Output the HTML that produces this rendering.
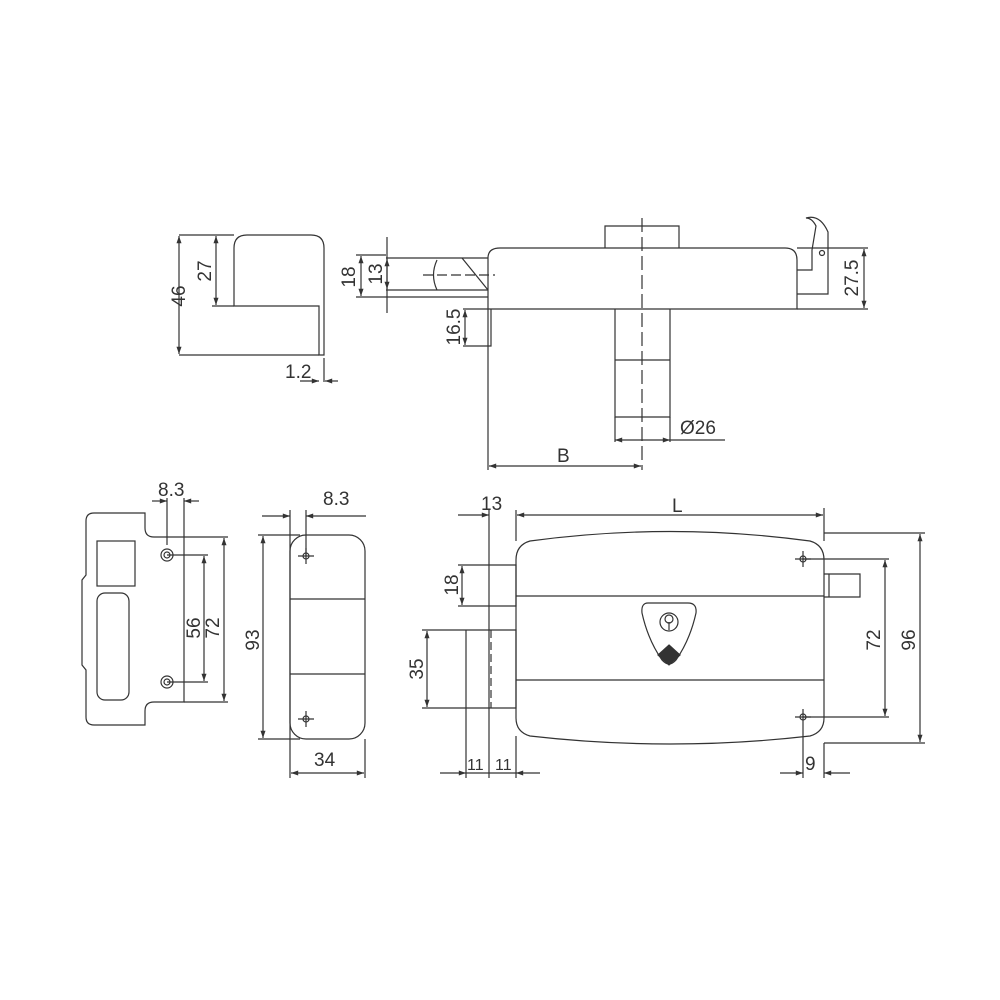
<!DOCTYPE html>
<html><head><style>
html,body{margin:0;padding:0;background:#fff}
svg{display:block}
text{font-family:"Liberation Sans",sans-serif;font-size:19px;fill:#333}
</style></head><body>
<svg width="1000" height="1000" viewBox="0 0 1000 1000" xmlns="http://www.w3.org/2000/svg">
<defs>
<marker id="a" viewBox="0 0 10 10" refX="10" refY="5" markerWidth="8" markerHeight="6" orient="auto-start-reverse"><path d="M0,1.5 L10,5 L0,8.5z" fill="#333"/></marker>
</defs>
<g fill="none" stroke="#333" stroke-width="1.2">
<path d="M234,306 V248 Q234,235 247,235 H311 Q324,235 324,248 V355 H319 V306 Z"/>
<path d="M179,235 H234 M179,355 H319 M212,306 H234"/>
<line x1="179" y1="236" x2="179" y2="354" marker-start="url(#a)" marker-end="url(#a)"/>
<line x1="216" y1="236" x2="216" y2="305" marker-start="url(#a)" marker-end="url(#a)"/>
<path d="M324,358 V382"/>
<line x1="300" y1="381" x2="319" y2="381" marker-end="url(#a)"/>
<line x1="338" y1="381" x2="325" y2="381" marker-end="url(#a)"/>
<path d="M488,309 V258 Q488,248 500,248 H785 Q797,248 797,260 V309 Z"/>
<path d="M605,248 V226 H679 V248"/>
<path d="M386,258 H488 M386,290 H488 M356,297 H488 M356,255 H386"/>
<path d="M437,260 Q430,275 437,290 M462,258 L488,290"/>
<path d="M423,275 H495" stroke-dasharray="10,4"/>
<line x1="387" y1="237" x2="387" y2="313"/>
<line x1="387" y1="259" x2="387" y2="289" marker-start="url(#a)" marker-end="url(#a)"/>
<line x1="361" y1="256" x2="361" y2="296" marker-start="url(#a)" marker-end="url(#a)"/>
<path d="M797,270 H812 V250 L816,226 Q812,218 806,218 Q820,214 828,232 V294 H797"/>
<circle cx="822" cy="253" r="2.5"/>
<path d="M797,248 H868 M797,309 H868"/>
<line x1="864" y1="249" x2="864" y2="308" marker-start="url(#a)" marker-end="url(#a)"/>
<path d="M488,309 V346 H491 V309 M463,309 H488 M463,346 H488"/>
<line x1="465" y1="310" x2="465" y2="345" marker-start="url(#a)" marker-end="url(#a)"/>
<path d="M615,309 V417 H670 V309 M615,360 H670"/>
<path d="M642,218 V470" stroke-dasharray="14,5"/>
<path d="M615,417 V442 M670,417 V442 M670,440 H725"/>
<line x1="642" y1="440" x2="615" y2="440" marker-end="url(#a)"/><line x1="642" y1="440" x2="670" y2="440" marker-end="url(#a)"/>
<path d="M488,346 V470"/>
<line x1="489" y1="466" x2="641" y2="466" marker-start="url(#a)" marker-end="url(#a)"/>
<path d="M94,513 H145 V528 Q145,537 154,537 H184 V702 H154 Q145,702 145,711 V725 H94 Q86,725 86,717 V670 L82,665 V580 L86,575 V521 Q86,513 94,513 Z"/>
<rect x="97" y="541" width="38" height="45"/>
<rect x="97" y="593" width="32" height="107" rx="8"/>
<circle cx="167" cy="555" r="6"/><circle cx="167" cy="555" r="3"/>
<circle cx="167" cy="682" r="6"/><circle cx="167" cy="682" r="3"/>
<path d="M167,498 V545 M184,498 V537 M167,555 H208 M167,682 H208 M184,537 H228 M184,702 H228"/>
<line x1="204" y1="556" x2="204" y2="681" marker-start="url(#a)" marker-end="url(#a)"/>
<line x1="224" y1="538" x2="224" y2="701" marker-start="url(#a)" marker-end="url(#a)"/>
<line x1="152" y1="501" x2="167" y2="501" marker-end="url(#a)"/>
<line x1="199" y1="501" x2="184" y2="501" marker-end="url(#a)"/>
<rect x="290" y="535" width="75" height="204" rx="16"/>
<path d="M290,599 H365 M290,674 H365"/>
<path d="M306,548 V564 M298,556 H314 M306,711 V727 M298,719 H314"/>
<circle cx="306" cy="556" r="3"/><circle cx="306" cy="719" r="3"/>
<path d="M258,535 H300 M258,739 H300 M290,510 V778 M365,739 V778 M306,510 V556"/>
<line x1="263" y1="536" x2="263" y2="738" marker-start="url(#a)" marker-end="url(#a)"/>
<line x1="291" y1="773" x2="364" y2="773" marker-start="url(#a)" marker-end="url(#a)"/>
<line x1="262" y1="516" x2="290" y2="516" marker-end="url(#a)"/>
<line x1="366" y1="516" x2="306" y2="516" marker-end="url(#a)"/>
<path d="M516,560 Q516,545 530,541 Q670,522 810,541 Q824,545 824,560 V718 Q824,732 810,736 Q670,752 530,736 Q516,732 516,718 Z"/>
<path d="M516,596 H824 M516,680 H824"/>
<path d="M824,574 H860 V597 H824 M829,574 V597"/>
<path d="M489,565 H516 V606 H489 Z M458,565 H489 M458,606 H489"/>
<line x1="462" y1="566" x2="462" y2="605" marker-start="url(#a)" marker-end="url(#a)"/>
<path d="M466,630 H516 V708 H466 Z M422,630 H466 M422,708 H466"/>
<path d="M491,630 V708" stroke-dasharray="8,4"/>
<line x1="427" y1="631" x2="427" y2="707" marker-start="url(#a)" marker-end="url(#a)"/>
<path d="M489,510 V565 M516,510 V541 M824,508 V541"/>
<line x1="458" y1="515" x2="489" y2="515" marker-end="url(#a)"/>
<line x1="517" y1="515" x2="823" y2="515" marker-start="url(#a)" marker-end="url(#a)"/>
<path d="M466,708 V778 M489,606 V778 M516,736 V778"/>
<line x1="440" y1="773" x2="466" y2="773" marker-end="url(#a)"/>
<line x1="540" y1="773" x2="516" y2="773" marker-end="url(#a)"/>
<path d="M466,773 H516"/>
<path d="M803,551 V567 M795,559 H811 M803,709 V725 M795,717 H811"/>
<circle cx="803" cy="559" r="3"/><circle cx="803" cy="717" r="3"/>
<path d="M803,559 H889 M803,717 H889 M824,533 H925 M824,743 H925 M803,725 V778 M824,743 V778"/>
<line x1="885" y1="560" x2="885" y2="716" marker-start="url(#a)" marker-end="url(#a)"/>
<line x1="920" y1="534" x2="920" y2="742" marker-start="url(#a)" marker-end="url(#a)"/>
<line x1="780" y1="773" x2="803" y2="773" marker-end="url(#a)"/>
<line x1="850" y1="773" x2="824" y2="773" marker-end="url(#a)"/>
<path d="M648,603 H688 Q697,603 696,613 Q690,640 676,660 Q669,668 662,660 Q648,640 642,613 Q641,603 648,603 Z"/>
<circle cx="669" cy="622" r="9"/><circle cx="669" cy="619" r="4"/>
<path d="M669,622 V630"/>
<path d="M669,645 L680,655 L669,665 L658,655 Z" fill="#333"/>
</g>
<g>
<text transform="translate(185,296) rotate(-90)" text-anchor="middle">46</text>
<text transform="translate(211,271) rotate(-90)" text-anchor="middle">27</text>
<text x="285" y="378">1.2</text>
<text transform="translate(355,277) rotate(-90)" text-anchor="middle">18</text>
<text transform="translate(382,274) rotate(-90)" text-anchor="middle">13</text>
<text transform="translate(460,327) rotate(-90)" text-anchor="middle">16.5</text>
<text transform="translate(858,278) rotate(-90)" text-anchor="middle">27.5</text>
<text x="680" y="434">Ø26</text>
<text x="557" y="462">B</text>
<text x="158" y="496">8.3</text>
<text transform="translate(200,628) rotate(-90)" text-anchor="middle">56</text>
<text transform="translate(219,628) rotate(-90)" text-anchor="middle">72</text>
<text x="323" y="505">8.3</text>
<text transform="translate(259,640) rotate(-90)" text-anchor="middle">93</text>
<text x="314" y="766">34</text>
<text x="481" y="510">13</text>
<text x="672" y="512">L</text>
<text transform="translate(458,585) rotate(-90)" text-anchor="middle">18</text>
<text transform="translate(423,669) rotate(-90)" text-anchor="middle">35</text>
<text x="467" y="770" style="font-size:16px">11</text>
<text x="495" y="770" style="font-size:16px">11</text>
<text transform="translate(880,640) rotate(-90)" text-anchor="middle">72</text>
<text transform="translate(915,640) rotate(-90)" text-anchor="middle">96</text>
<text x="805" y="770">9</text>
</g>
</svg>
</body></html>
